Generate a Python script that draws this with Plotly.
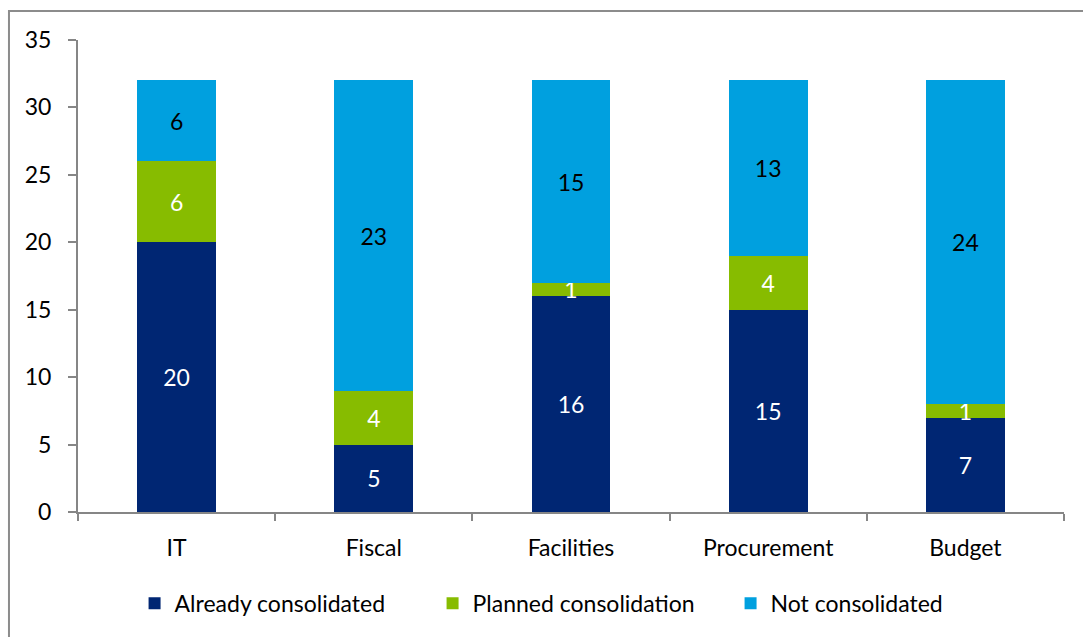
import plotly.graph_objects as go

categories = ["IT", "Fiscal", "Facilities", "Procurement", "Budget"]
already = [20, 5, 16, 15, 7]
planned = [6, 4, 1, 4, 1]
not_consolidated = [6, 23, 15, 13, 24]

series = [
    ("Already consolidated", already, "#002673", "white"),
    ("Planned consolidation", planned, "#87BC00", "white"),
    ("Not consolidated", not_consolidated, "#00A0DF", "black"),
]

FONT = "Lato, Carlito, Calibri, sans-serif"
FS = 23
GRID = "#868686"

fig = go.Figure()
for name, vals, color, tcolor in series:
    fig.add_trace(go.Bar(
        x=categories, y=vals, name=name,
        marker=dict(color=color, line=dict(width=0)),
        text=vals, texttemplate="%{text}",
        textposition="inside", insidetextanchor="middle",
        constraintext="none", textangle=0,
        textfont=dict(color=tcolor, size=FS, family=FONT),
        hoverinfo="skip",
    ))

fig.update_layout(
    barmode="stack",
    bargap=0.6,
    width=1083, height=637,
    margin=dict(l=78, r=19, t=40, b=125, autoexpand=False),
    paper_bgcolor="white", plot_bgcolor="white",
    font=dict(family=FONT, size=FS, color="black"),
    showlegend=True,
    legend=dict(orientation="h", xref="container", yref="container",
                x=0.537, xanchor="center", y=0.053, yanchor="middle",
                font=dict(size=FS, family=FONT), traceorder="normal",
                itemwidth=30, entrywidth=253, entrywidthmode="pixels"),
    xaxis=dict(
        type="category", showline=True, linecolor=GRID, linewidth=2,
        ticks="outside", tickson="boundaries", ticklen=7, tickcolor=GRID, tickwidth=2,
        showgrid=False, zeroline=False, tickfont=dict(size=FS),
        ticklabelstandoff=14, automargin=False,
    ),
    yaxis=dict(
        range=[0, 35], dtick=5, showline=True, linecolor=GRID, linewidth=2,
        ticks="outside", ticklen=8, tickcolor=GRID, tickwidth=2,
        showgrid=False, zeroline=False, tickfont=dict(size=FS),
        ticklabelstandoff=12, automargin=False,
    ),
    shapes=[dict(
        type="rect", xref="paper", yref="paper",
        x0=-0.07, x1=1.03, y0=-0.29, y1=1.0614,
        line=dict(color="#8C8C8C", width=2), fillcolor="rgba(0,0,0,0)", layer="below",
    )],
)

fig.write_html("out.html")
